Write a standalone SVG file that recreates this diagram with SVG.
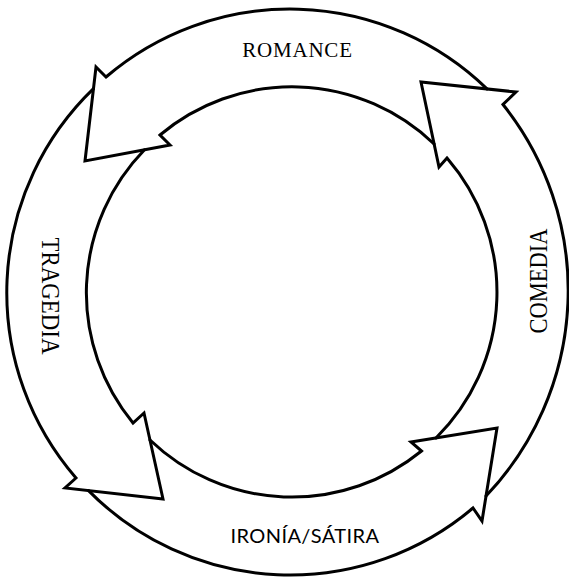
<svg xmlns="http://www.w3.org/2000/svg" width="569" height="579" viewBox="0 0 569 579">
<style>
.band{fill:none;stroke:#000;stroke-width:3;stroke-linejoin:miter;stroke-linecap:round}
.lbl{font-family:"Liberation Serif","Times New Roman",serif;fill:#000}
.sans{font-family:Lato,"Open Sans","DejaVu Sans",sans-serif;fill:#000}
</style>
<rect width="569" height="579" fill="#fff"/>
<g id="connectors">
<path id="arrow-romance" class="band" d="M487,88.9 A283,283 0 0 0 106,77 L96,67 L85,161 L170,145 L160,135 A205,205 0 0 1 434.1,144"/>
<path id="arrow-tragedia" class="band" d="M93.5,88.7 A283,283 0 0 0 76,478 L65,488 L163,499 L144,413 L133,423 A205,205 0 0 1 144.5,149.8"/>
<path id="arrow-ironia" class="band" d="M88.5,490.6 A283,283 0 0 0 473,508 L482,521 L497,428 L411,442 L421.5,451 A205,205 0 0 1 150,440"/>
<path id="arrow-comedia" class="band" d="M486,496 A298,298 0 0 0 503,104.5 L516,92 L421,82 L439,167 L447,158 A205,205 0 0 1 436,438"/>
</g>
<g id="romance">
<text class="lbl" x="297.5" y="56.7" font-size="21" letter-spacing="0.8" text-anchor="middle">ROMANCE</text>
</g>
<g id="tragedia">
<text class="lbl" transform="translate(42,296) rotate(90)" x="0" y="0" font-size="26" text-anchor="middle" textLength="117" lengthAdjust="spacingAndGlyphs">TRAGEDIA</text>
</g>
<g id="ironia-satira">
<text class="sans" x="305" y="542.7" font-size="20" letter-spacing="0.4" text-anchor="middle">IRONÍA/SÁTIRA</text>
</g>
<g id="comedia">
<text class="lbl" transform="translate(546.5,281) rotate(-90)" x="0" y="0" font-size="25" text-anchor="middle" textLength="105" lengthAdjust="spacingAndGlyphs">COMEDIA</text>
</g>
</svg>
